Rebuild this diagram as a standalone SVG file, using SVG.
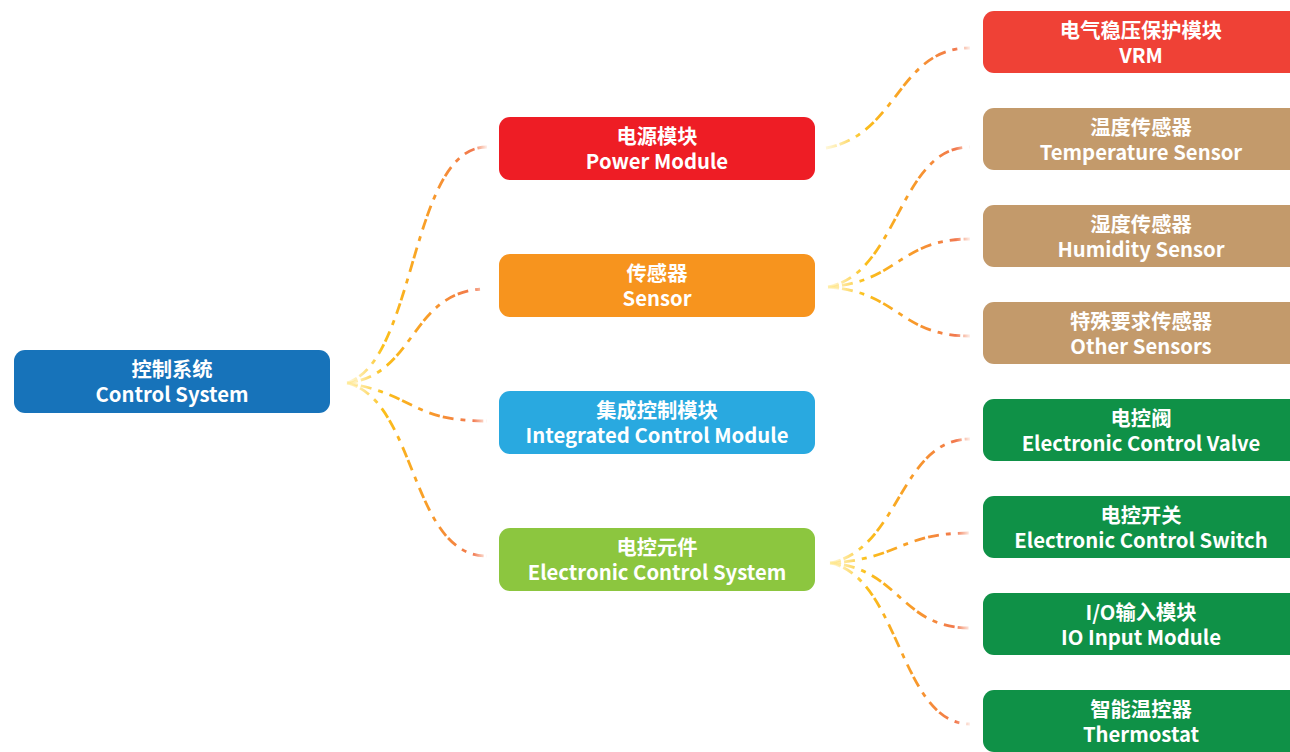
<svg xmlns="http://www.w3.org/2000/svg" width="1290" height="752" viewBox="0 0 1290 752">
<defs>
<linearGradient id="lg" x1="0" y1="0" x2="1" y2="0">
<stop offset="0" stop-color="#FFE680" stop-opacity="0.3"/>
<stop offset="0.25" stop-color="#FBC01A" stop-opacity="1"/>
<stop offset="0.6" stop-color="#F89A2A" stop-opacity="1"/>
<stop offset="0.9" stop-color="#F06A3A" stop-opacity="0.9"/>
<stop offset="1" stop-color="#F06A3A" stop-opacity="0.1"/>
</linearGradient>
</defs>
<style>
.c{fill:none;stroke:url(#lg);stroke-width:2.8;stroke-dasharray:11 3 11 7 5 7;stroke-linecap:butt}
.n{rx:11;ry:11}
.t{font-family:"Noto Sans CJK SC","Noto Sans",sans-serif;font-weight:bold;font-size:20.3px;fill:#fff;text-anchor:middle}
</style>
<rect width="1290" height="752" fill="#fff"/>
<g id="connectors">
<path class="c" d="M347,383 C417,360 410,147 487,147"/>
<path class="c" d="M347,383 C417,375 410,289 487,289"/>
<path class="c" d="M347,383 C417,395 410,421 487,421"/>
<path class="c" d="M347,383 C417,400 410,556 487,556"/>
<path class="c" d="M826,148 C898,135 898,48 970,48"/>
<path class="c" d="M828,287 C899,273 899,147 970,147"/>
<path class="c" d="M828,287 C899,282 899,239 970,239"/>
<path class="c" d="M828,287 C899,292 899,336 970,336"/>
<path class="c" d="M830,563 C900,549 900,439 970,439"/>
<path class="c" d="M830,563 C900,559 900,533 970,533"/>
<path class="c" d="M830,563 C900,568 900,628 970,628"/>
<path class="c" d="M830,563 C900,577 900,724 970,724"/>
</g>
<g id="root">
<rect class="n" x="14" y="350" width="316" height="63" fill="#1773BA"/>
<text class="t" x="172" y="377">控制系统</text>
<text class="t" x="172" y="402">Control System</text>
</g>
<g id="power">
<rect class="n" x="499" y="117" width="316" height="63" fill="#EE1D25"/>
<text class="t" x="657" y="144">电源模块</text>
<text class="t" x="657" y="169">Power Module</text>
</g>
<g id="sensor">
<rect class="n" x="499" y="254" width="316" height="63" fill="#F7941E"/>
<text class="t" x="657" y="281">传感器</text>
<text class="t" x="657" y="306">Sensor</text>
</g>
<g id="integrated">
<rect class="n" x="499" y="391" width="316" height="63" fill="#29A9E0"/>
<text class="t" x="657" y="418">集成控制模块</text>
<text class="t" x="657" y="443">Integrated Control Module</text>
</g>
<g id="electronic">
<rect class="n" x="499" y="528" width="316" height="63" fill="#8CC63F"/>
<text class="t" x="657" y="555">电控元件</text>
<text class="t" x="657" y="580">Electronic Control System</text>
</g>
<g id="vrm">
<rect class="n" x="983" y="11" width="320" height="62" fill="#EF4136"/>
<text class="t" x="1141" y="38">电气稳压保护模块</text>
<text class="t" x="1141" y="63">VRM</text>
</g>
<g id="temperature">
<rect class="n" x="983" y="108" width="320" height="62" fill="#C39A6B"/>
<text class="t" x="1141" y="135">温度传感器</text>
<text class="t" x="1141" y="160">Temperature Sensor</text>
</g>
<g id="humidity">
<rect class="n" x="983" y="205" width="320" height="62" fill="#C39A6B"/>
<text class="t" x="1141" y="232">湿度传感器</text>
<text class="t" x="1141" y="257">Humidity Sensor</text>
</g>
<g id="other">
<rect class="n" x="983" y="302" width="320" height="62" fill="#C39A6B"/>
<text class="t" x="1141" y="329">特殊要求传感器</text>
<text class="t" x="1141" y="354">Other Sensors</text>
</g>
<g id="valve">
<rect class="n" x="983" y="399" width="320" height="62" fill="#0F9147"/>
<text class="t" x="1141" y="426">电控阀</text>
<text class="t" x="1141" y="451">Electronic Control Valve</text>
</g>
<g id="switch">
<rect class="n" x="983" y="496" width="320" height="62" fill="#0F9147"/>
<text class="t" x="1141" y="523">电控开关</text>
<text class="t" x="1141" y="548">Electronic Control Switch</text>
</g>
<g id="io">
<rect class="n" x="983" y="593" width="320" height="62" fill="#0F9147"/>
<text class="t" x="1141" y="620">I/O输入模块</text>
<text class="t" x="1141" y="645">IO Input Module</text>
</g>
<g id="thermostat">
<rect class="n" x="983" y="690" width="320" height="62" fill="#0F9147"/>
<text class="t" x="1141" y="717">智能温控器</text>
<text class="t" x="1141" y="742">Thermostat</text>
</g>
</svg>
